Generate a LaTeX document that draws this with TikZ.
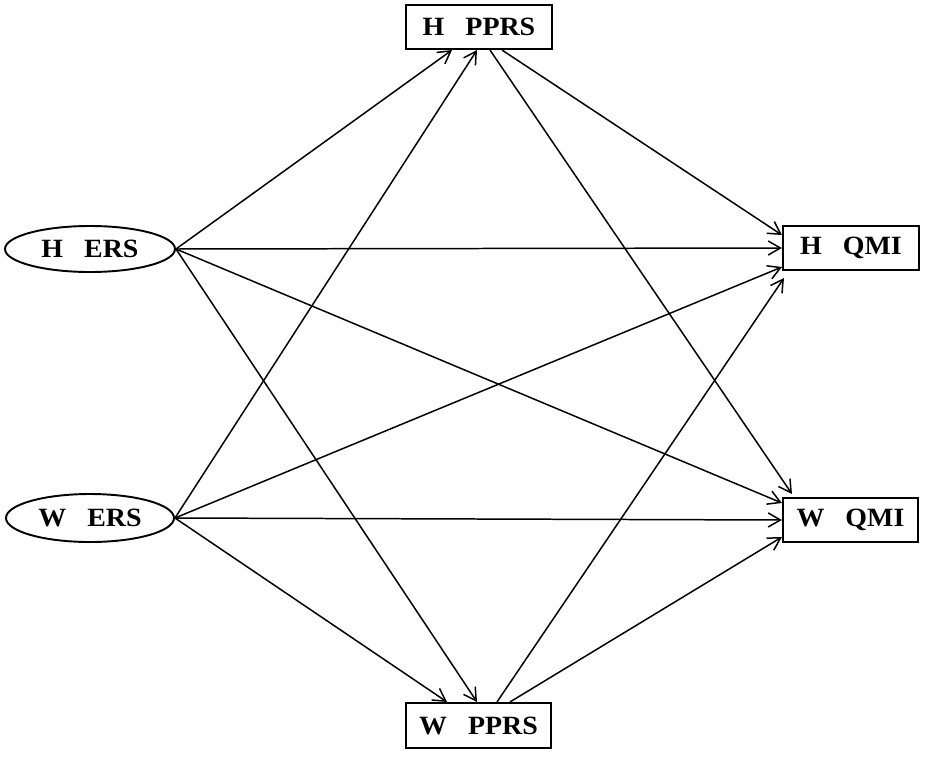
\documentclass[tikz,border=0pt]{standalone}
\usepackage{fontspec}
\setmainfont{Liberation Serif}
\usetikzlibrary{arrows.meta,calc,shapes.geometric}
\newcommand{\lbl}[2]{\scalebox{1.06}[1]{\bfseries #1\hspace{0.75em}#2}}
\begin{document}
\begin{tikzpicture}[x=0.02cm,y=-0.02cm,
  txt/.style={font=\fontsize{15}{17}\selectfont, inner sep=0pt},
  boxnode/.style={txt, draw, line width=1.2pt, rectangle},
  ellnode/.style={txt, draw, line width=1.1pt, ellipse},
  conn/.style={line width=0.85pt, -{Straight Barb[length=7pt,width=8pt,line width=0.85pt]}}]
\useasboundingbox (0,0) rectangle (925,757);
% nodes
\node[boxnode, minimum width=146*0.02cm, minimum height=44*0.02cm] (hp) at (479,27) {\lbl{H}{PPRS}};
\node[boxnode, minimum width=145*0.02cm, minimum height=45*0.02cm] (wp) at (478.5,725.5) {\lbl{W}{PPRS}};
\node[ellnode, minimum width=170*0.02cm, minimum height=46*0.02cm] (he) at (90,249) {\lbl{H}{ERS}};
\node[ellnode, minimum width=168*0.02cm, minimum height=48*0.02cm] (we) at (90,518) {\lbl{W}{ERS}};
\node[boxnode, minimum width=136*0.02cm, minimum height=44*0.02cm] (hq) at (851,248) {\lbl{H}{QMI}};
\node[boxnode, minimum width=135*0.02cm, minimum height=44*0.02cm] (wq) at (850.5,520) {\lbl{W}{QMI}};
% from H ERS
\draw[conn] (he.east) -- ($(hp.south)+(-27,0)$);
\draw[conn] (he.east) -- (hq.west);
\draw[conn] (he.east) -- ($(wq.west)+(0,-17)$);
\draw[conn] (he.east) -- ($(wp.north)+(-1.5,0)$);
% from W ERS
\draw[conn] (we.east) -- ($(hp.south)+(-2,0)$);
\draw[conn] (we.east) -- ($(hq.west)+(0,19)$);
\draw[conn] (we.east) -- (wq.west);
\draw[conn] (we.east) -- ($(wp.north)+(-31.5,0)$);
% from H PPRS
\draw[conn] ($(hp.south)+(11,0)$) -- ($(wq.north west)+(10,-3)$);
\draw[conn] ($(hp.south)+(23,0)$) -- ($(hq.west)+(0,-13)$);
% from W PPRS
\draw[conn] ($(wp.north)+(18.5,0)$) -- ($(hq.south west)+(2,7)$);
\draw[conn] ($(wp.north)+(31.5,0)$) -- ($(wq.west)+(0,17)$);
\end{tikzpicture}
\end{document}
